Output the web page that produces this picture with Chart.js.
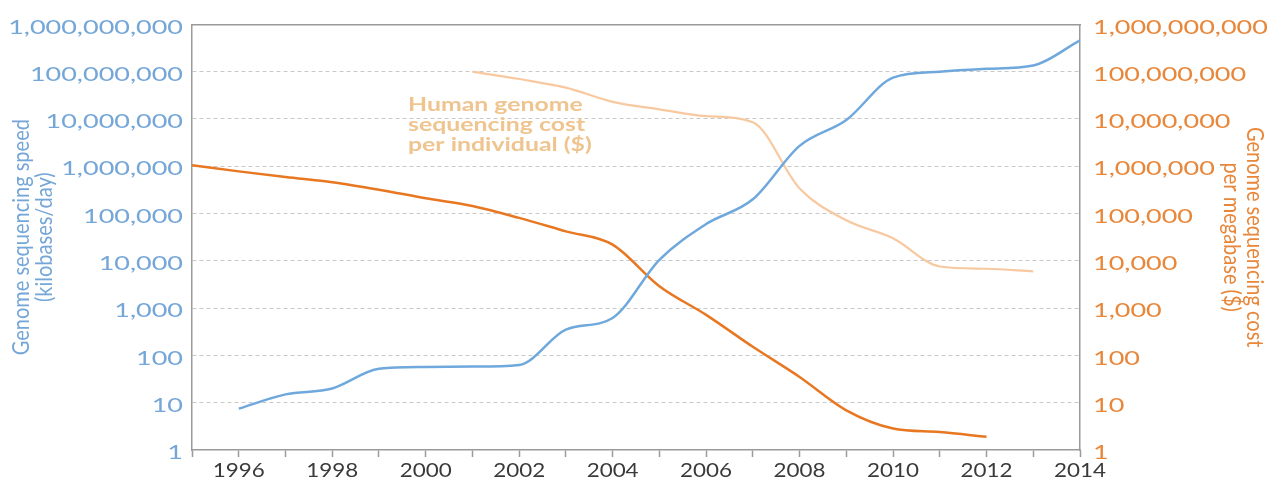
<!DOCTYPE html>
<html>
<head>
<meta charset="utf-8">
<script src="https://cdn.jsdelivr.net/npm/chart.js@4/dist/chart.umd.min.js"></script>
<style>
html,body{margin:0;padding:0;background:#fff;}
canvas{display:block;}
</style>
</head>
<body>
<canvas id="c" width="1268" height="479"></canvas>
<script>
// ---- data ----
const years = [1995,1996,1997,1998,1999,2000,2001,2002,2003,2004,2005,2006,2007,2008,2009,2010,2011,2012,2013,2014];
// Genome sequencing speed (kilobases/day) - left axis
const speed = [null,7.5,15,20,52,57,58,63,350,620,10500,60000,200000,2.7e6,9.5e6,7.5e7,1.0e8,1.15e8,1.35e8,4.6e8];
// Genome sequencing cost per megabase ($) - right axis
const costPerMb = [1.05e6,7.8e5,5.9e5,4.6e5,3.2e5,2.1e5,1.45e5,8.1e4,4.2e4,2.2e4,2900,720,152,35,6.9,2.85,2.4,1.9,null,null];
// Human genome sequencing cost per individual ($) - right axis
const costGenome = [null,null,null,null,null,null,1.0e8,7.0e7,4.6e7,2.3e7,1.6e7,1.15e7,8.5e6,3.4e5,7.2e4,3.0e4,7.6e3,6.8e3,6.0e3,null];
// tick labels
const yTickValues = [1,10,100,1000,10000,100000,1000000,10000000,100000000,1000000000];
const xTickYears = years;
const leftTitle = ['Genome sequencing speed','(kilobases/day)'];
const rightTitle = ['Genome sequencing cost','per megabase ($)'];
const annotation = ['Human genome','sequencing cost','per individual ($)'];

const BLUE = '#6fa8dc', BLUE_TXT = '#74a6d8';
const ORANGE = '#e87722', ORANGE_TXT = '#e8873a';
const PEACH = '#f8c9a0', PEACH_TXT = '#efc48f';
const AXIS = '#9a9a9a', GRID = '#c9c9c9';

const pts = arr => years.map((y,i)=>({x:y, y:arr[i]}));

// horizontally widened glyphs (the reference text is drawn wide)
function stretched(ctx, kx, ky, fn){
  const orig = CanvasRenderingContext2D.prototype.fillText;
  ctx.fillText = function(t, x, y){
    this.save(); this.translate(x, y); this.scale(kx, ky); orig.call(this, t, 0, 0); this.restore();
  };
  try { fn(); } finally { delete ctx.fillText; }
}
const STRETCH = { y:[1.42,1,1.15], y2:[1.42,1,1.15], x:[1.12,1,1] };
const stretchPlugin = {
  id:'stretch',
  beforeDraw(chart){
    for (const id in STRETCH){
      const s = chart.scales[id];
      if (s && !s._stWrapped){
        const [kx, ky, kt] = STRETCH[id];
        const origL = s.drawLabels, origT = s.drawTitle;
        s.drawLabels = function(area){ stretched(this.ctx, kx, ky, () => origL.call(this, area)); };
        s.drawTitle = function(){ stretched(this.ctx, 1, kt, () => origT.call(this)); };
        s._stWrapped = true;
      }
    }
  }
};
const annotationPlugin = {
  id:'annot',
  afterDatasetsDraw(chart){
    const c = chart.ctx; c.save();
    c.font = 'bold 18px Lato';
    c.fillStyle = PEACH_TXT;
    c.textAlign = 'left'; c.textBaseline = 'alphabetic';
    const x0 = chart.scales.x.left + 216;
    const base = [111,131,151];
    stretched(c, 1.38, 1, () => annotation.forEach((t,i)=>c.fillText(t, x0, base[i])));
    c.restore();
  }
};

const yCommon = (pos, color, title, pad, titlePad, width) => ({
  type:'logarithmic', position:pos, min:1, max:1e9,
  afterBuildTicks: s => { s.ticks = yTickValues.map(v=>({value:v})); },
  afterFit: s => { s.width = width; },
  ticks:{ autoSkip:false, color, padding:pad, labelOffset:3,
    font:{family:'Lato', size:19},
    callback: v => Number(v).toLocaleString('en-US') },
  grid:{ display: pos==='left', drawOnChartArea: pos==='left', drawTicks:false,
    color: ctx => (ctx.tick && (ctx.tick.value===1 || ctx.tick.value===1e9)) ? 'rgba(0,0,0,0)' : GRID,
    lineWidth:1 },
  border:{ display:true, color:AXIS, width:1.5, dash: pos==='left' ? [4,3] : [] },
  title:{ display:true, text:title, color, padding:{top:titlePad, bottom:0},
    font:{family:'Lato', size:20, lineHeight:1.15} }
});

new Chart(document.getElementById('c'), {
  type:'line',
  data:{ datasets:[
    { label:'Genome sequencing speed', data:pts(speed), yAxisID:'y', borderColor:BLUE, borderWidth:2.5 },
    { label:'Cost per megabase', data:pts(costPerMb), yAxisID:'y2', borderColor:ORANGE, borderWidth:2.5 },
    { label:'Human genome cost', data:pts(costGenome), yAxisID:'y2', borderColor:PEACH, borderWidth:2.2 }
  ]},
  options:{
    responsive:false, animation:false, devicePixelRatio:1,
    layout:{ padding:{top:21, left:0, right:0, bottom:0} },
    elements:{ point:{radius:0, hoverRadius:0}, line:{cubicInterpolationMode:'monotone', fill:false} },
    plugins:{ legend:{display:false}, tooltip:{enabled:false} },
    scales:{
      x:{ type:'linear', position:'bottom', min:1995, max:2014,
        afterBuildTicks: s => { s.ticks = xTickYears.map(v=>({value:v})); },
        afterFit: s => { s.height = 29; },
        ticks:{ autoSkip:false, maxRotation:0, color:'#3a3a3a', padding:2,
          font:{family:'Lato', size:20},
          callback: v => (v % 2 === 0 ? String(v) : '') },
        grid:{ drawOnChartArea:false, drawTicks:true, tickLength:7, tickColor:AXIS, tickWidth:1.5 },
        border:{ color:AXIS, width:1.5 }
      },
      xTop:{ type:'linear', position:'top', min:1995, max:2014,
        afterFit: s => { s.height = 0; },
        ticks:{ display:false }, grid:{ display:false, drawTicks:false },
        border:{ display:true, color:AXIS, width:1.5 }
      },
      y: yCommon('left', BLUE_TXT, leftTitle, 9, 10, 192),
      y2: yCommon('right', ORANGE_TXT, rightTitle, 13, 2, 188)
    }
  },
  plugins:[stretchPlugin, annotationPlugin]
});
</script>
</body>
</html>
